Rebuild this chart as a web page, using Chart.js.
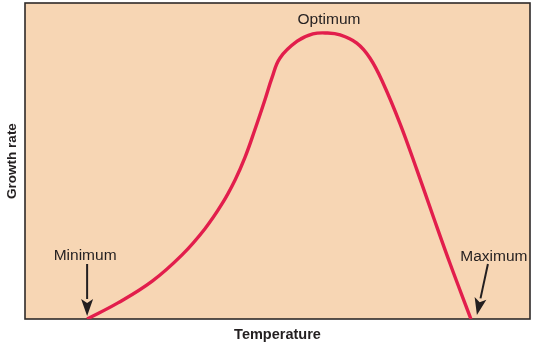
<!DOCTYPE html>
<html>
<head>
<meta charset="utf-8">
<script src="https://cdn.jsdelivr.net/npm/chart.js@4"></script>
<style>
html,body{margin:0;padding:0;background:#fff;}
canvas{display:block;}
</style>
</head>
<body>
<canvas id="c" width="536" height="352"></canvas>
<script>
// Temperature (arbitrary units, 0-100) and growth rate (arbitrary units, 0-100)
const temperature = [12.3, 18.4, 25.2, 31.1, 35.6, 39.0, 41.6, 43.6, 45.5, 47.5, 48.9, 50.5, 53.9, 57.0, 59.8, 62.4, 65.7, 68.3, 70.9, 74.3, 77.6, 80.8, 84.2, 88.3];
const growthRate  = [0, 5.1, 12.0, 20.3, 28.5, 36.4, 44.0, 51.3, 59.8, 69.3, 76.3, 82.6, 87.9, 90.2, 90.5, 89.9, 87.3, 82.6, 74.7, 61.7, 47.2, 32.6, 17.4, 0];
const pointLabels = ["Minimum", "Optimum", "Maximum"];
const axisTitles = ["Temperature", "Growth rate"];

const FONT = "'Liberation Sans', Arial, Helvetica, sans-serif";
const PEACH = "#f7d6b4";
const RED = "#e21e4c";

const pts = temperature.map((t, i) => ({x: t, y: growthRate[i]}));

const decor = {
  id: 'decor',
  beforeDraw(chart) {
    const {ctx, chartArea: a} = chart;
    ctx.save();
    ctx.fillStyle = PEACH;
    ctx.fillRect(a.left, a.top, a.right - a.left, a.bottom - a.top);
    ctx.restore();
  },
  beforeDatasetsDraw(chart) {
    const {ctx, chartArea: a} = chart;
    ctx.save();
    ctx.strokeStyle = "#2e2a28";
    ctx.lineWidth = 1.6;
    ctx.strokeRect(a.left, a.top, a.right - a.left, a.bottom - a.top);
    ctx.restore();
  },
  afterDatasetsDraw(chart) {
    const {ctx, scales: {x, y}} = chart;
    const first = 0, last = growthRate.length - 1;
    let peak = 0;
    growthRate.forEach((v, i) => { if (v > growthRate[peak]) peak = i; });
    const px = i => x.getPixelForValue(temperature[i]);
    const py = i => y.getPixelForValue(growthRate[i]);

    ctx.save();
    ctx.fillStyle = "#231f20";
    ctx.font = "15.5px " + FONT;
    ctx.textAlign = "center";
    ctx.textBaseline = "middle";
    ctx.fillText(pointLabels[0], px(first) - 2, py(first) - 63);
    ctx.fillText(pointLabels[1], px(peak) + 2, py(peak) - 13);
    ctx.fillText(pointLabels[2], px(last) + 23, py(last) - 62);

    function arrow(x0, y0, x1, y1) {
      const ang = Math.atan2(y1 - y0, x1 - x0);
      const hl = 17, hw = 6;
      const bx = x1 - hl * Math.cos(ang), by = y1 - hl * Math.sin(ang);
      ctx.strokeStyle = "#231f20";
      ctx.lineWidth = 2;
      ctx.beginPath();
      ctx.moveTo(x0, y0);
      ctx.lineTo(bx, by);
      ctx.stroke();
      ctx.beginPath();
      ctx.moveTo(x1, y1);
      ctx.lineTo(bx + hw * Math.sin(ang), by - hw * Math.cos(ang));
      ctx.lineTo(bx + 4 * Math.cos(ang), by + 4 * Math.sin(ang));
      ctx.lineTo(bx - hw * Math.sin(ang), by + hw * Math.cos(ang));
      ctx.closePath();
      ctx.fill();
    }
    arrow(px(first), py(first) - 55, px(first), py(first) - 3);
    arrow(px(last) + 17, py(last) - 55, px(last) + 6, py(last) - 4);
    ctx.restore();
  }
};

new Chart(document.getElementById('c'), {
  type: 'line',
  data: {
    datasets: [{
      data: pts,
      borderColor: RED,
      borderWidth: 3.4,
      pointRadius: 0,
      fill: false,
      tension: 0.4,
      borderCapStyle: 'butt'
    }]
  },
  options: {
    responsive: false,
    animation: false,
    events: [],
    layout: {padding: {left: 0, right: 6, top: 3, bottom: 4.6}},
    plugins: {legend: {display: false}, tooltip: {enabled: false}},
    scales: {
      x: {
        type: 'linear', min: 0, max: 100,
        grid: {display: false, drawTicks: false}, border: {display: false},
        ticks: {display: false},
        title: {display: true, text: axisTitles[0], color: "#231f20",
          font: {family: FONT, size: 14.5, weight: 'bold'}, padding: {top: 7, bottom: 4}}
      },
      y: {
        type: 'linear', min: 0, max: 100,
        grid: {display: false, drawTicks: false}, border: {display: false},
        ticks: {display: false},
        title: {display: true, text: axisTitles[1], color: "#231f20",
          font: {family: FONT, size: 13.5, weight: 'bold'}, padding: {top: 4, bottom: 4.8}}
      }
    }
  },
  plugins: [decor]
});
</script>
</body>
</html>
